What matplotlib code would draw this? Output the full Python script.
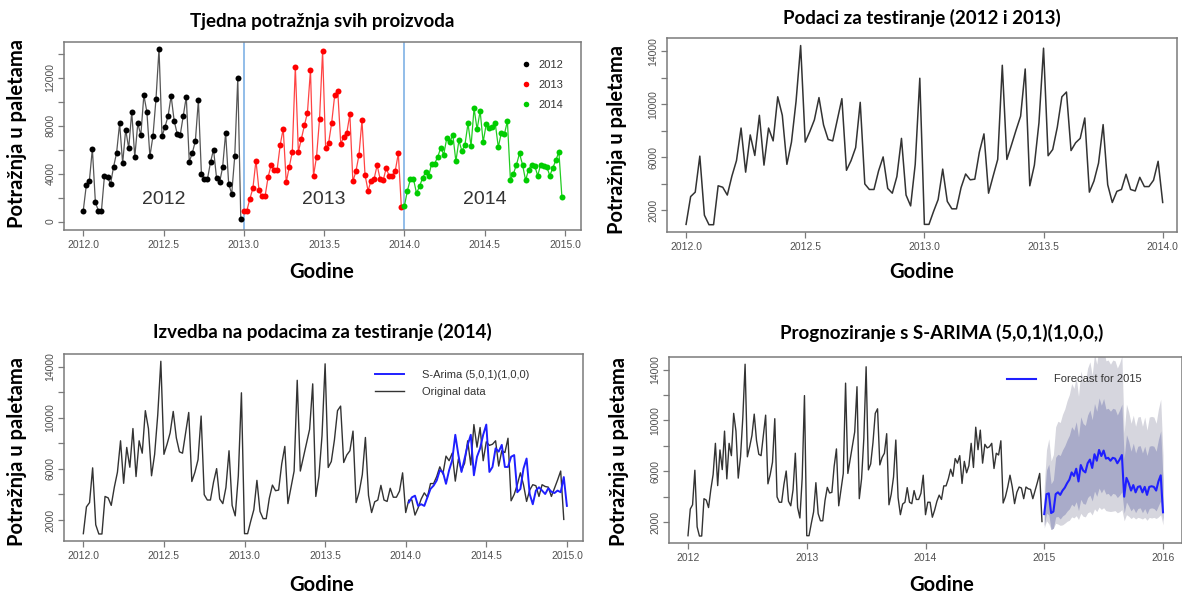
import numpy as np
import matplotlib
matplotlib.use("Agg")
import matplotlib.pyplot as plt
from matplotlib.lines import Line2D

# weekly demand (pallets); panel 1 also shows the partial boundary weeks
y2012 = [925, 3025, 3360, 6080, 1620, 900, 900, 3840, 3730, 3140, 4570, 5740, 8200, 4870,
         7680, 6130, 9160, 5400, 8200, 7230, 10560, 9160, 5460, 7140, 10220, 14430, 7140,
         7930, 8820, 10500, 8430, 7340, 7230, 8820, 10420, 5010, 5740, 6720, 10140, 3980,
         3560, 3560, 4960, 6020, 3640, 3280, 4540, 7420, 3140, 2320, 5460, 11960, 200]
y2013 = [925, 925, 1900, 2800, 5100, 2660, 2100, 2100, 3700, 4730, 4290, 4340, 6390, 7760,
         3280, 4570, 5830, 12940, 5830, 6920, 8040, 9100, 12660, 3840, 5400, 8600, 14230,
         6110, 6580, 8260, 10560, 10920, 6500, 7090, 7420, 8960, 3360, 4200, 5550, 8460,
         3920, 2580, 3420, 3560, 4710, 3560, 3450, 4480, 3780, 3780, 4260, 5690, 1200]
y2014 = [1300, 2580, 3560, 3560, 2380, 2940, 3640, 4120, 3780, 4850, 4850, 5400, 6160, 5600,
         7000, 6640, 7230, 5040, 6780, 5880, 6440, 8200, 6300, 9470, 7700, 9240, 6640, 8120,
         7840, 7930, 8200, 6220, 7420, 7280, 8400, 3500, 4000, 4760, 5690, 4760, 3450, 4340,
         4760, 4680, 3840, 4760, 4620, 4570, 3840, 4480, 5130, 5830, 2040]

# S-ARIMA fitted values for 2014
fitted2014 = [3370, 3770, 3900, 3100, 3230, 3100, 3770, 4430, 4690, 5090, 5890, 5760, 4830,
              5890, 6680, 8670, 7080, 5760, 6810, 7880, 8670, 5500, 6950, 7610, 8670, 9470,
              5760, 6150, 7610, 7350, 7880, 6150, 6150, 6950, 7080, 4170, 4430, 6020, 6810,
              4030, 3230, 4300, 4560, 4300, 4030, 4480, 4210, 4110, 4300, 4170, 5360, 3100]

# forecast for 2015 and distances to the 80% / 95% band edges
forecast2015 = [2625, 4200, 4260, 2710, 2820, 4200, 4340, 4140, 4480, 4710, 5060, 5340, 5910,
                5630, 6200, 5200, 6490, 6060, 5910, 6630, 6920, 6260, 7340, 6830, 7680, 7200,
                7630, 7000, 7060, 6830, 7060, 7000, 6630, 6920, 7280, 4000, 5480, 5060, 4480,
                4910, 4340, 4770, 4820, 4340, 4770, 4140, 4770, 4820, 4770, 4480, 5200, 5680, 2770]
gap_hi80 = [1200, 1900, 2300, 2300, 2500, 2900, 3000, 3100, 3200, 3300, 3400, 3500, 3600, 3600,
            3700, 3500, 3800, 3700, 3700, 3800, 3900, 3800, 4000, 3900, 4100, 4000, 4100, 3900,
            3900, 3900, 3900, 3900, 3800, 3900, 4000, 3000, 3400, 3300, 3100, 3300, 3100, 3200,
            3200, 3100, 3200, 3100, 3200, 3200, 3200, 3100, 3300, 3500, 2600]
gap_lo80 = [900, 1500, 1700, 1300, 1300, 1800, 1900, 1900, 2000, 2100, 2200, 2300, 2500, 2400,
            2600, 2300, 2700, 2600, 2500, 2700, 2800, 2600, 2900, 2800, 3000, 2900, 3000, 2800,
            2800, 2800, 2800, 2800, 2700, 2800, 2900, 1300, 1900, 1800, 1600, 1800, 1600, 1700,
            1700, 1600, 1700, 1500, 1700, 1700, 1700, 1600, 1900, 2000, 700]
gap_hi95 = [2200, 3500, 4300, 4100, 4500, 5300, 5600, 5700, 6000, 6200, 6500, 6700, 7000, 6900,
            7200, 6700, 7400, 7200, 7100, 7500, 7700, 7300, 7900, 7600, 8100, 7800, 8000, 7700,
            7700, 7600, 7700, 7700, 7500, 7600, 7800, 5000, 5800, 5600, 5300, 5500, 5200, 5500,
            5500, 5200, 5500, 5100, 5500, 5500, 5500, 5300, 5700, 6000, 4500]
gap_lo95 = [1100, 2100, 2400, 1300, 1300, 2300, 2500, 2400, 2700, 2800, 3000, 3200, 3500, 3300,
            3700, 3000, 3800, 3600, 3500, 3900, 4100, 3700, 4300, 4000, 4500, 4200, 4500, 4100,
            4200, 4000, 4200, 4100, 3900, 4100, 4300, 1900, 2900, 2600, 2200, 2500, 2100, 2400,
            2500, 2100, 2400, 2000, 2400, 2500, 2400, 2200, 2800, 3100, 1000]

years = [2012, 2013, 2014]
year_colors = ["black", "#ff0000", "#00cd00"]
line_colors = ["#555555", "#ff4444", "#22cc22"]

W, H = 1182, 597
TITLE_FONT = "Lato"
TICK_FONT = "Liberation Sans"

# weekly series used by the model panels (52 weeks per year)
series = np.array(y2012[:-1] + y2013[:-1] + y2014[1:], dtype=float)
t = 2012 + np.arange(len(series)) / 52.0

fig = plt.figure(figsize=(W / 100, H / 100), dpi=100)
fig.patch.set_facecolor("white")


def add_panel(left, top, right, bottom):
    return fig.add_axes([left / W, 1 - bottom / H, (right - left) / W, (bottom - top) / H])


def style(ax, xticks, xlabels, yticks, ylabels):
    for s in ax.spines.values():
        s.set_color("#7a7a7a")
        s.set_linewidth(1.1)
    ax.set_xticks(xticks)
    ax.set_xticklabels(xlabels, fontfamily=TICK_FONT, fontsize=7.5, color="#505050")
    ax.set_yticks(yticks)
    ax.set_yticklabels(ylabels, fontfamily=TICK_FONT, fontsize=7.5, color="#505050",
                       rotation=90, va="center")
    ax.tick_params(axis="both", direction="out", length=4, color="#7a7a7a", width=0.9)
    ax.tick_params(axis="x", pad=3)
    ax.tick_params(axis="y", pad=2)


def labels(cx, title, ty, ylx, yly, xly):
    fig.text(cx / W, 1 - ty / H, title, ha="center", va="center",
             fontfamily=TITLE_FONT, fontweight="bold", fontsize=13.5)
    fig.text(ylx / W, 1 - yly / H, "Potražnja u paletama", ha="center", va="center",
             rotation=90, fontfamily=TITLE_FONT, fontweight="bold", fontsize=14.5)
    fig.text(cx / W, 1 - xly / H, "Godine", ha="center", va="center",
             fontfamily=TITLE_FONT, fontweight="bold", fontsize=14.5)


yt = list(range(2000, 14001, 2000))
yl = [str(v) if v in (2000, 6000, 10000, 14000) else "" for v in yt]

# ---- panel 1: weekly demand of all products
ax1 = add_panel(64, 42, 581, 230)
for yr, vals, mc, lc in zip(years, [y2012, y2013, y2014], year_colors, line_colors):
    tx = yr + np.arange(len(vals)) / len(vals)
    ax1.plot(tx, vals, color=lc, lw=0.9, zorder=2)
    ax1.plot(tx, vals, "o", color=mc, ms=4.3, mec="none", zorder=3)
for xv in (2013.0, 2014.0):
    ax1.axvline(xv, color="#7fb2e5", lw=1.2, zorder=1)
for yr in years:
    ax1.text(yr + 0.5, 1850, str(yr), ha="center", va="center", fontsize=14,
             fontfamily=TICK_FONT, color="#333333")
ax1.set_xlim(2011.88, 2015.10)
ax1.set_ylim(-700, 15000)
yt1 = list(range(0, 14001, 2000))
style(ax1, [2012.0, 2012.5, 2013.0, 2013.5, 2014.0, 2014.5, 2015.0],
      ["2012.0", "2012.5", "2013.0", "2013.5", "2014.0", "2014.5", "2015.0"],
      yt1, [str(v) if v in (0, 4000, 8000, 12000) else "" for v in yt1])
handles = [Line2D([], [], marker="o", ls="none", color=c, ms=4.0, mec="none") for c in year_colors]
ax1.legend(handles, [str(y) for y in years], loc="upper right", bbox_to_anchor=(0.985, 0.96),
           frameon=False, prop={"family": TICK_FONT, "size": 8}, labelcolor="#333333",
           handletextpad=0.6, labelspacing=0.9, handlelength=1.0)
labels(322, "Tjedna potražnja svih proizvoda", 22, 17, 134, 272)

# ---- panel 2: training data 2012 and 2013
ax2 = add_panel(667, 38, 1177, 232)
n2 = 105
ax2.plot(t[:n2], series[:n2], color="#333333", lw=1.1)
ax2.set_xlim(2011.92, 2014.06)
ax2.set_ylim(350, 15000)
style(ax2, [2012.0, 2012.5, 2013.0, 2013.5, 2014.0],
      ["2012.0", "2012.5", "2013.0", "2013.5", "2014.0"], yt, yl)
labels(922, "Podaci za testiranje (2012 i 2013)", 18, 617, 140, 272)

# ---- panel 3: model on the 2014 test data
ax3 = add_panel(64, 354, 583, 541)
ax3.plot(t, series, color="#333333", lw=1.0, label="Original data")
tf = 2014 + (np.arange(len(fitted2014)) + 1) / 52.0
ax3.plot(tf, fitted2014, color="#1f1fff", lw=1.4, label="S-Arima (5,0,1)(1,0,0)")
ax3.set_xlim(2011.88, 2015.10)
ax3.set_ylim(350, 15000)
style(ax3, [2012.0, 2012.5, 2013.0, 2013.5, 2014.0, 2014.5, 2015.0],
      ["2012.0", "2012.5", "2013.0", "2013.5", "2014.0", "2014.5", "2015.0"], yt, yl)
h3, l3 = ax3.get_legend_handles_labels()
ax3.legend(h3[::-1], l3[::-1], loc="upper left", bbox_to_anchor=(0.58, 0.97), frameon=False,
           prop={"family": TICK_FONT, "size": 8}, labelcolor="#333333",
           handlelength=2.6, handletextpad=1.6, labelspacing=0.7)
labels(322, "Izvedba na podacima za testiranje (2014)", 332, 17, 452, 585)

# ---- panel 4: S-ARIMA forecast for 2015
ax4 = add_panel(669, 357, 1182, 543)
fc = np.array(forecast2015, dtype=float)
tfc = 2015 + np.arange(len(fc)) / 52.0
ax4.fill_between(tfc, fc - np.array(gap_lo95), fc + np.array(gap_hi95), color="#d6d6de", lw=0)
ax4.fill_between(tfc, fc - np.array(gap_lo80), fc + np.array(gap_hi80), color="#a9abc9", lw=0)
ax4.plot(t, series, color="#333333", lw=1.0)
ax4.plot(tfc, fc, color="#1f1fff", lw=1.5, label="Forecast for 2015")
ax4.set_xlim(2011.84, 2016.16)
ax4.set_ylim(350, 15000)
style(ax4, [2012, 2013, 2014, 2015, 2016], ["2012", "2013", "2014", "2015", "2016"], yt, yl)
ax4.legend(loc="upper left", bbox_to_anchor=(0.64, 0.96), frameon=False,
           prop={"family": TICK_FONT, "size": 8}, labelcolor="#333333",
           handlelength=2.6, handletextpad=1.6)
labels(942, "Prognoziranje s S-ARIMA (5,0,1)(1,0,0,)", 333, 619, 452, 585)

fig.savefig("out.png", dpi=100)
